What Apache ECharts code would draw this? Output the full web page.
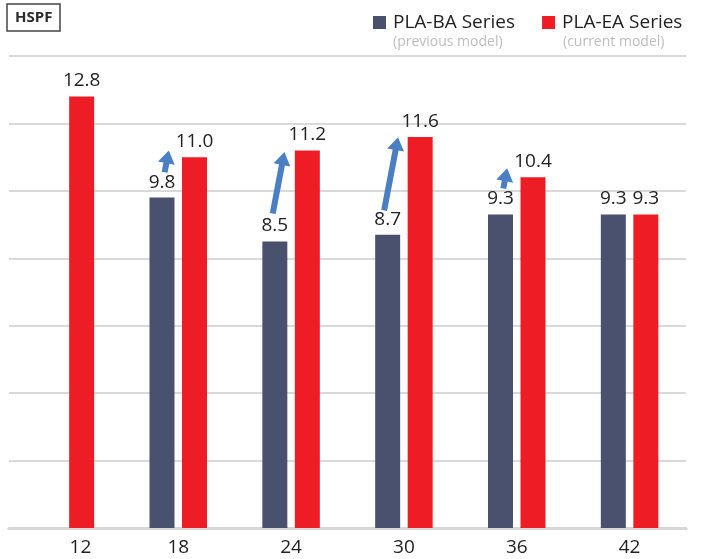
<!DOCTYPE html>
<html>
<head>
<meta charset="utf-8">
<script src="https://cdn.jsdelivr.net/npm/echarts@6/dist/echarts.min.js"></script>
<style>
html,body{margin:0;padding:0;background:#fff;}
#c{width:702px;height:559px;}
</style>
</head>
<body>
<div id="c"></div>
<script>
const categories = ['12', '18', '24', '30', '36', '42'];
const baSeries = [null, 9.8, 8.5, 8.7, 9.3, 9.3];
const eaSeries = [12.8, 11.0, 11.2, 11.6, 10.4, 9.3];
const arrowFrom = [null, 10.55, 9.33, 9.42, 10.07, null];
const arrowTo = [null, 11.2, 11.15, 11.59, 10.67, null];
const yTicks = [0, 2, 4, 6, 8, 10, 12, 14];

const FONT = '"Open Sans", "Noto Sans", sans-serif';
const chart = echarts.init(document.getElementById('c'), null, {renderer: 'canvas'});

const arrowData = [];
categories.forEach((c, i) => {
  if (arrowFrom[i] != null) arrowData.push([i, arrowFrom[i], arrowTo[i]]);
});

function renderArrow(params, api) {
  const idx = api.value(0);
  const p0 = api.coord([idx, api.value(1)]);
  const p1 = api.coord([idx, api.value(2)]);
  const L = p0[1] - p1[1];
  const tx = p0[0] - 11 - 0.12 * L;
  const hx = tx + 0.19 * L;
  const ty = p0[1], hy = p1[1];
  const dx = hx - tx, dy = hy - ty;
  const len = Math.sqrt(dx * dx + dy * dy);
  const ux = dx / len, uy = dy / len;
  const nx = -uy, ny = ux;
  const headLen = 13, headW = 8.5, shaftW = 3;
  const bx = hx - ux * headLen, by = hy - uy * headLen;
  const pts = [
    [tx + nx * shaftW, ty + ny * shaftW],
    [bx + nx * shaftW, by + ny * shaftW],
    [bx + nx * headW, by + ny * headW],
    [hx, hy],
    [bx - nx * headW, by - ny * headW],
    [bx - nx * shaftW, by - ny * shaftW],
    [tx - nx * shaftW, ty - ny * shaftW]
  ];
  return {type: 'polygon', shape: {points: pts}, style: {fill: '#4a7fc3'}};
}

const option = {
  animation: false,
  backgroundColor: '#ffffff',
  title: {
    text: 'HSPF',
    left: 7, top: 4,
    borderColor: '#444',
    borderWidth: 1.5,
    padding: [5, 8, 4, 8],
    textStyle: {fontFamily: FONT, fontSize: 15, fontWeight: 'bold', color: '#2b2b2b', lineHeight: 18}
  },
  legend: {
    data: ['PLA-BA Series', 'PLA-EA Series'],
    left: 368, top: 8,
    icon: 'rect',
    itemWidth: 13, itemHeight: 13,
    itemGap: 27,
    textStyle: {fontFamily: FONT, fontSize: 19, color: '#222', padding: [0, 0, 0, 2]}
  },
  graphic: [
    {type: 'text', left: 393, top: 35, style: {text: '(previous model)', fontFamily: FONT, fontSize: 14, fill: '#bdbdbd'}},
    {type: 'text', left: 563, top: 35, style: {text: '(current model)', fontFamily: FONT, fontSize: 14, fill: '#bdbdbd'}}
  ],
  grid: {left: 9, top: 56, width: 677, bottom: 31, containLabel: false},
  xAxis: {
    type: 'category',
    data: categories,
    axisLine: {lineStyle: {color: '#d6d6d6', width: 3}},
    axisTick: {show: false},
    axisLabel: {
      margin: 10,
      fontFamily: FONT, fontSize: 19, color: '#222',
      formatter: (v, i) => i === 0 ? '{s|' + v + '}' : v,
      rich: {s: {fontFamily: FONT, fontSize: 19, color: '#222', padding: [0, 0, 0, 30]}}
    }
  },
  yAxis: {
    type: 'value',
    min: yTicks[0], max: yTicks[yTicks.length - 1], interval: 2,
    axisLabel: {show: false},
    axisLine: {show: false},
    axisTick: {show: false},
    splitLine: {lineStyle: {color: '#d9d9d9', width: 2}}
  },
  series: [
    {
      name: 'PLA-BA Series',
      type: 'bar',
      data: baSeries.map(v => v == null ? '-' : v),
      barWidth: 25,
      barGap: '30%',
      itemStyle: {color: '#4a516e'},
      label: {
        show: true, position: 'top', distance: 6,
        fontFamily: FONT, fontSize: 19, color: '#222',
        formatter: p => Number(p.value).toFixed(1)
      }
    },
    {
      name: 'PLA-EA Series',
      type: 'bar',
      data: eaSeries,
      barWidth: 25,
      itemStyle: {color: '#ee1c25'},
      label: {
        show: true, position: 'top', distance: 6,
        fontFamily: FONT, fontSize: 19, color: '#222',
        formatter: p => Number(p.value).toFixed(1)
      }
    },
    {
      name: 'arrows',
      type: 'custom',
      data: arrowData,
      encode: {x: 0, y: [1, 2]},
      renderItem: renderArrow,
      z: 10,
      silent: true
    }
  ]
};
chart.setOption(option);
</script>
</body>
</html>
